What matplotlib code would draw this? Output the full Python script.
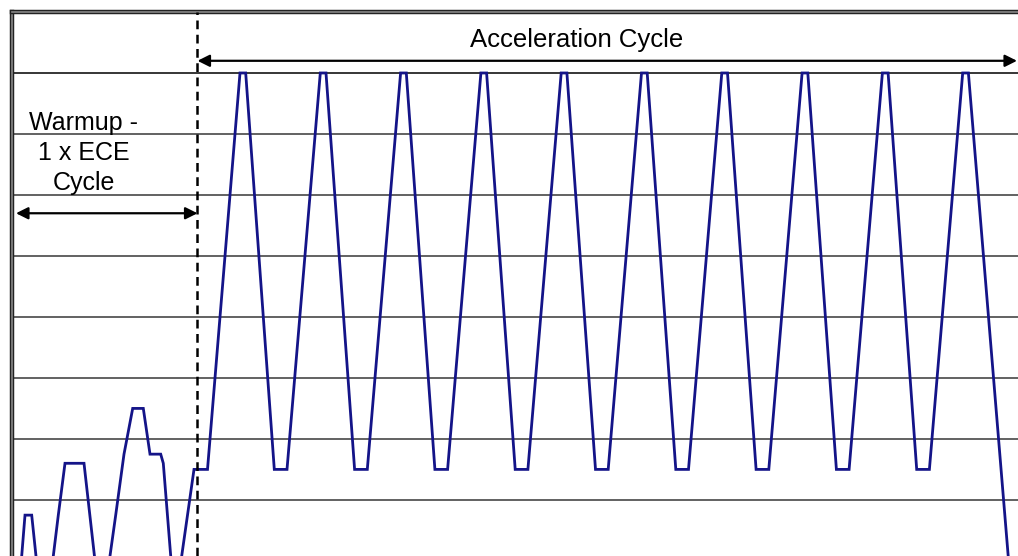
import matplotlib.pyplot as plt
import matplotlib.patheffects as pe

plt.rcParams['font.family'] = ['Liberation Sans', 'DejaVu Sans']

# ---- speed trace: time (s), speed (km/h) ----
warmup_t = [0, 9.3, 13, 19.7, 24.5, 40.7, 46.3, 53, 72, 83,
            97.3, 103.7, 112, 120.7, 131.3, 138, 148.7, 151.3, 159.1,
            169, 182]
warmup_v = [0, 0, 15, 15, 0, 0, 15, 32, 32, 0,
            0, 15, 35, 50, 50, 35, 35, 32, 0,
            0, 30]

accel_t = [195.5,
           228, 233.7, 262.3, 275,
           308.3, 314, 342.6, 355.3,
           388.6, 394.3, 422.9, 435.6,
           468.9, 474.6, 503.2, 515.9,
           549.2, 554.9, 583.5, 596.2,
           629.5, 635.2, 663.8, 676.5,
           709.8, 715.5, 744.1, 756.8,
           790.1, 795.8, 824.4, 837.1,
           870.4, 876.1, 904.7, 917.4,
           950.7, 956.4, 996.6]
accel_v = [30,
           160, 160, 30, 30,
           160, 160, 30, 30,
           160, 160, 30, 30,
           160, 160, 30, 30,
           160, 160, 30, 30,
           160, 160, 30, 30,
           160, 160, 30, 30,
           160, 160, 30, 30,
           160, 160, 30, 30,
           160, 160, 0]

grid_levels = [20, 40, 60, 80, 100, 120, 140]
top_level = 160
warmup_end = 185.5

fig = plt.figure(figsize=(10.18, 5.56), dpi=100)
ax = fig.add_axes([12 / 1018, 0, 1006 / 1018, 544 / 556])
ax.set_xlim(0, 1006)
ax.set_ylim(1.6, 180)

for lv in grid_levels:
    ax.axhline(lv, color='#555555', lw=1.3, zorder=1)
ax.axhline(top_level, color='black', lw=1.1, zorder=1)

ax.plot(warmup_t + accel_t, warmup_v + accel_v, color='#141488', lw=2.0,
        solid_joinstyle='miter', zorder=3)

ax.axvline(warmup_end, color='black', lw=1.8, dashes=(3.5, 2.2), zorder=4)

# arrows
ax.annotate('', xy=(warmup_end, 164), xytext=(1005, 164),
            arrowprops=dict(arrowstyle='<|-|>', color='black', lw=1.6,
                            mutation_scale=18, shrinkA=0, shrinkB=0))
ax.annotate('', xy=(4, 114), xytext=(warmup_end, 114),
            arrowprops=dict(arrowstyle='<|-|>', color='black', lw=1.6,
                            mutation_scale=18, shrinkA=0, shrinkB=0))

ax.text(565, 170.7, 'Acceleration Cycle', ha='center', va='center', fontsize=18.5)
ax.text(72, 133.8, 'Warmup -\n1 x ECE\nCycle', ha='center', va='center',
        multialignment='center', fontsize=18, linespacing=1.3)

ax.set_xticks([])
ax.set_yticks([])
for s in ['right', 'bottom']:
    ax.spines[s].set_visible(False)
for s in ['left', 'top']:
    ax.spines[s].set_linewidth(1.2)
    ax.spines[s].set_color('#888888')
    ax.spines[s].set_path_effects([pe.Stroke(linewidth=3.2, foreground='#222222'),
                                   pe.Normal()])

fig.savefig('out.png', dpi=100)
